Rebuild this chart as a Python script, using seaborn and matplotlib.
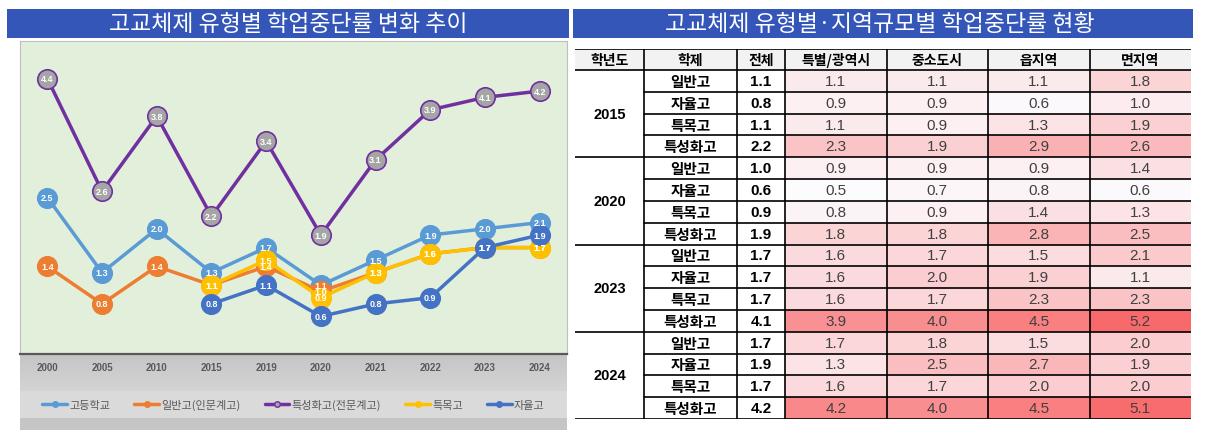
import numpy as np
import pandas as pd
import matplotlib
matplotlib.use('Agg')
import matplotlib.pyplot as plt
import seaborn as sns
from matplotlib.patches import Rectangle
from matplotlib.lines import Line2D
from matplotlib.colors import LinearSegmentedColormap

nan = np.nan

# ---------------- line chart data ----------------
years_line = ['2000', '2005', '2010', '2015', '2019', '2020', '2021', '2022', '2023', '2024']
high_school = [2.5, 1.3, 2.0, 1.3, 1.7, 1.1, 1.5, 1.9, 2.0, 2.1]
general = [1.4, 0.8, 1.4, 1.1, 1.4, 1.0, 1.3, 1.6, 1.7, 1.7]
vocational = [4.4, 2.6, 3.8, 2.2, 3.4, 1.9, 3.1, 3.9, 4.1, 4.2]
special = [nan, nan, nan, 1.1, 1.5, 0.9, 1.3, 1.6, 1.7, 1.7]
autonomous = [nan, nan, nan, 0.8, 1.1, 0.6, 0.8, 0.9, 1.7, 1.9]
series_names = ['고등학교', '일반고(인문계고)', '특성화고(전문계고)', '특목고', '자율고']
left_title = '고교체제 유형별 학업중단률 변화 추이'

# ---------------- table data ----------------
right_title = '고교체제 유형별·지역규모별 학업중단률 현황'
header = ['학년도', '학제', '전체', '특별/광역시', '중소도시', '읍지역', '면지역']
table_years = ['2015', '2020', '2023', '2024']
school_types = ['일반고', '자율고', '특목고', '특성화고']
totals = [1.1, 0.8, 1.1, 2.2, 1.0, 0.6, 0.9, 1.9, 1.7, 1.7, 1.7, 4.1, 1.7, 1.9, 1.7, 4.2]
metro = [1.1, 0.9, 1.1, 2.3, 0.9, 0.5, 0.8, 1.8, 1.6, 1.6, 1.6, 3.9, 1.7, 1.3, 1.6, 4.2]
small_city = [1.1, 0.9, 0.9, 1.9, 0.9, 0.7, 0.9, 1.8, 1.7, 2.0, 1.7, 4.0, 1.8, 2.5, 1.7, 4.0]
town = [1.1, 0.6, 1.3, 2.9, 0.9, 0.8, 1.4, 2.8, 1.5, 1.9, 2.3, 4.5, 1.5, 2.7, 2.0, 4.5]
rural = [1.8, 1.0, 1.9, 2.6, 1.4, 0.6, 1.3, 2.5, 2.1, 1.1, 2.3, 5.2, 2.0, 1.9, 2.0, 5.1]

# ---------------- setup ----------------
sns.set_theme(style='white')
plt.rcParams['font.family'] = ['Noto Sans CJK KR', 'DejaVu Sans']
W, H = 1205, 431
fig = plt.figure(figsize=(W / 100, H / 100), dpi=100)
fig.patch.set_facecolor('white')


def pax(x0, y0, x1, y1):
    return fig.add_axes([x0 / W, 1 - y1 / H, (x1 - x0) / W, (y1 - y0) / H])


BAR = '#3456B9'
# title bars
fig.add_artist(Rectangle((7 / W, 1 - 39 / H), (569 - 7) / W, 29 / H,
                         transform=fig.transFigure, color=BAR, lw=0))
fig.text(288 / W, 1 - 24.5 / H, left_title, color='white', fontsize=16.5,
         ha='center', va='center')
fig.add_artist(Rectangle((573 / W, 1 - 39 / H), (1193 - 573) / W, 29 / H,
                         transform=fig.transFigure, color=BAR, lw=0))
fig.text(880 / W, 1 - 24.5 / H, right_title, color='white', fontsize=16.5,
         ha='center', va='center')

# ---------------- grey band under chart ----------------
bg = pax(20, 355, 567, 431)
vals = []
for py in range(355, 431):
    if py < 392:
        vals.append(0.77 + 0.06 * (py - 355) / 37)
    elif py < 419:
        vals.append(0.855)
    else:
        vals.append(0.77)
bg.imshow(np.array(vals)[:, None], cmap='gray', vmin=0, vmax=1, aspect='auto',
          interpolation='nearest')
bg.axis('off')

# ---------------- line chart ----------------
ax = pax(20, 42, 567, 355)
ax.set_facecolor('#E2EFDA')
pos = np.arange(len(years_line))
series_vals = [high_school, general, vocational, special, autonomous]
colors = ['#5B9BD5', '#ED7D31', '#7030A0', '#FFC000', '#4472C4']
faces = ['#5B9BD5', '#ED7D31', '#A5A5A5', '#FFC000', '#4472C4']

for k, (vals_, c, fc) in enumerate(zip(series_vals, colors, faces)):
    d = pd.DataFrame({'pos': pos, 'value': vals_}).dropna()
    sns.lineplot(data=d, x='pos', y='value', ax=ax, color=c, linewidth=2.5,
                 marker='o', markersize=14, markerfacecolor=fc,
                 markeredgecolor=c, markeredgewidth=1.2, errorbar=None,
                 legend=False, zorder=3 + k)

for vals_ in series_vals:
    for i, v in enumerate(vals_):
        if not np.isnan(v):
            ax.text(i, v, f'{v:.1f}', ha='center', va='center', color='white',
                    fontsize=6.5, fontweight='bold', family='Liberation Sans',
                    zorder=20)

ax.set_xlim(-0.5, len(years_line) - 0.5)
ax.set_ylim(0, 5)
ax.set_xticks(pos)
ax.set_xticklabels(years_line, fontsize=7, color='#595959', fontweight='bold',
                   family='Liberation Sans')
ax.tick_params(axis='x', length=0, pad=6)
ax.set_yticks([])
ax.set_xlabel('')
ax.set_ylabel('')
for s in ['top', 'left', 'right']:
    ax.spines[s].set_color('#BFBFBF')
    ax.spines[s].set_linewidth(0.8)
ax.spines['bottom'].set_color('#595959')
ax.spines['bottom'].set_linewidth(1.6)

handles = [Line2D([0], [0], color=c, lw=2.5, marker='o', markersize=4,
                  markerfacecolor=fc, markeredgecolor=c)
           for c, fc in zip(colors, faces)]
fig.legend(handles, series_names, loc='center',
           bbox_to_anchor=(293.5 / W, 1 - 405.5 / H), ncol=5, frameon=False,
           fontsize=8, handlelength=2.2, handletextpad=0.2, columnspacing=2.2,
           labelcolor='#595959')

# ---------------- table: heatmap cells ----------------
T0, HB, TB = 50, 71, 420          # table top, header bottom, table bottom
XL, X1, X2, X3, XR = 575, 644, 737, 785, 1191
rh = (TB - HB) / 16

mat = pd.DataFrame({'특별/광역시': metro, '중소도시': small_city,
                    '읍지역': town, '면지역': rural})
cmap = LinearSegmentedColormap.from_list('wr', ['#FCFCFF', '#F8696B'])
hm = pax(X3, HB, XR, TB)
sns.heatmap(mat, ax=hm, cmap=cmap, vmin=0.5, vmax=5.2, annot=True, fmt='.1f',
            cbar=False, linewidths=0, xticklabels=False, yticklabels=False,
            annot_kws=dict(color='#404040', fontsize=11,
                           family='Liberation Sans'))
hm.set_xlabel('')
hm.set_ylabel('')

# ---------------- table: frame, header, left columns ----------------
tab = pax(XL, T0, XR, TB)
tab.set_xlim(XL, XR)
tab.set_ylim(TB, T0)
tab.axis('off')
tab.patch.set_visible(False)
tab.add_patch(Rectangle((XL, T0), XR - XL, HB - T0, color='#F2F2F2', lw=0,
                        zorder=0))

col_edges = [XL, X1, X2, X3]
region_w = (XR - X3) / 4
col_edges += [X3 + region_w * i for i in range(1, 5)]
col_centers = [(col_edges[i] + col_edges[i + 1]) / 2 for i in range(7)]

LW = 1.2
tab.plot([XL, XR], [T0, T0], color='black', lw=LW)
tab.plot([XL, XR], [HB, HB], color='black', lw=LW)
for r in range(1, 17):
    y = HB + r * rh
    x_start = XL if r % 4 == 0 else X1
    tab.plot([x_start, XR], [y, y], color='black', lw=LW)
for x in col_edges[1:-1]:
    tab.plot([x, x], [T0, TB], color='black', lw=LW)

for cx, lab in zip(col_centers, header):
    tab.text(cx, (T0 + HB) / 2, lab, ha='center', va='center', fontsize=10,
             fontweight='bold', color='black')

for g, yr in enumerate(table_years):
    yc = HB + (g * 4 + 2) * rh
    tab.text(col_centers[0], yc, yr, ha='center', va='center', fontsize=10.5,
             fontweight='bold', family='Liberation Sans', color='black')
    for j, st in enumerate(school_types):
        r = g * 4 + j
        yc2 = HB + (r + 0.5) * rh
        tab.text(col_centers[1], yc2, st, ha='center', va='center',
                 fontsize=10.5, fontweight='bold', color='black')
        tab.text(col_centers[2], yc2, f'{totals[r]:.1f}', ha='center',
                 va='center', fontsize=11, fontweight='bold',
                 family='Liberation Sans', color='black')

fig.savefig('out.png', dpi=100, facecolor='white')
